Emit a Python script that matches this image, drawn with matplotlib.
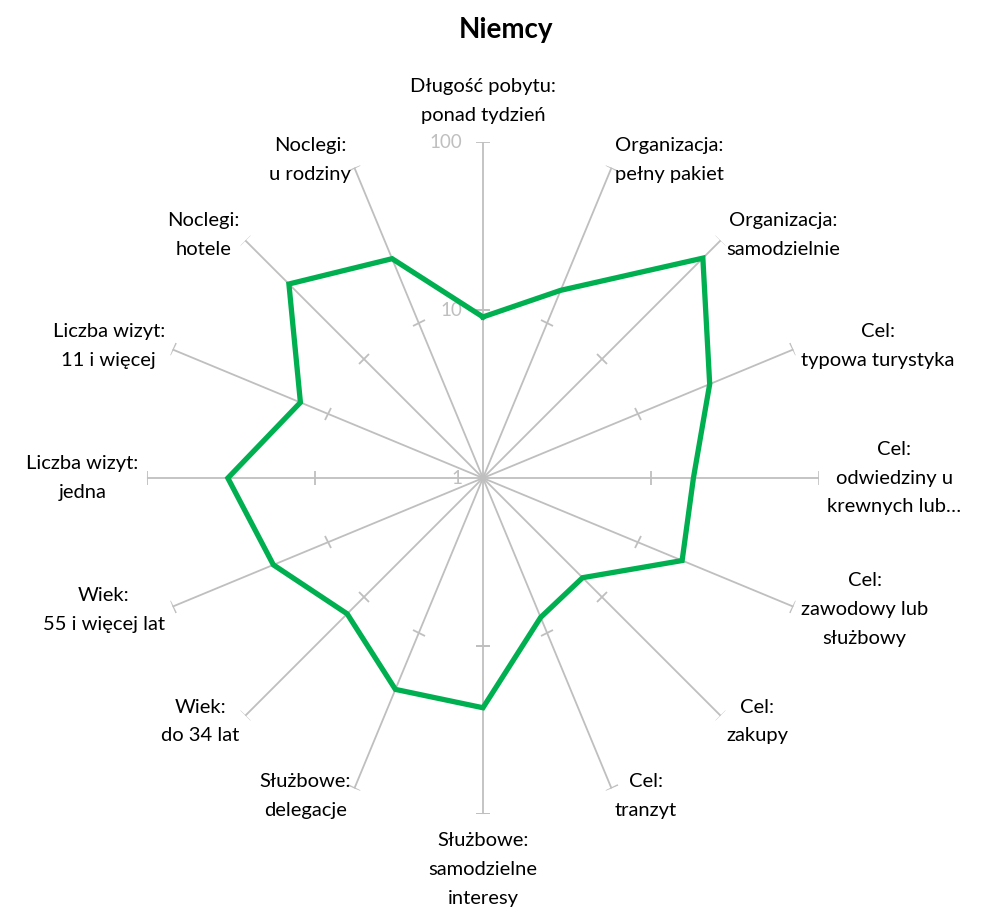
import numpy as np
import matplotlib
matplotlib.use("Agg")
from matplotlib import pyplot as plt
from matplotlib.markers import MarkerStyle
from matplotlib.transforms import Affine2D

# data (clockwise from top), log scale 1..100
labels = [
    "Długość pobytu:\nponad tydzień",
    "Organizacja:\npełny pakiet",
    "Organizacja:\nsamodzielnie",
    "Cel:\ntypowa turystyka",
    "Cel:\nodwiedziny u\nkrewnych lub…",
    "Cel:\nzawodowy lub\nsłużbowy",
    "Cel:\nzakupy",
    "Cel:\ntranzyt",
    "Służbowe:\nsamodzielne\ninteresy",
    "Służbowe:\ndelegacje",
    "Wiek:\ndo 34 lat",
    "Wiek:\n55 i więcej lat",
    "Liczba wizyt:\njedna",
    "Liczba wizyt:\n11 i więcej",
    "Noclegi:\nhotele",
    "Noclegi:\nu rodziny",
]
values = [9.1, 16.2, 71.0, 28.9, 17.9, 19.2, 6.9, 7.9,
          23.3, 23.0, 13.9, 22.4, 33.0, 15.0, 43.0, 25.9]
rticks = [1, 10, 100]
title = "Niemcy"

GRAY = "#BFBFBF"
GREEN = "#00B050"
plt.rcParams['font.family'] = ['Lato', 'DejaVu Sans']

fig = plt.figure(figsize=(9.83, 9.13), dpi=100)
ax = fig.add_axes([0.1495, 0.1084, 0.6836, 0.736], projection='polar')
ax.set_theta_zero_location('N')
ax.set_theta_direction(-1)
ax.set_rscale('log')
ax.set_rlim(rticks[0], rticks[-1])
ax.grid(False)
ax.spines['polar'].set_visible(False)
ax.set_xticks([])
ax.set_yticks([])
ax.patch.set_alpha(0)

n = len(labels)
theta = np.arange(n) * 2 * np.pi / n

# spokes with tick marks
for i, t in enumerate(theta):
    ax.plot([t, t], [rticks[0], rticks[-1]], color=GRAY, lw=1.3, zorder=1)
    deg = np.degrees(t)
    m = MarkerStyle('_', transform=Affine2D().rotate_deg(-deg))
    ax.plot([t, t], rticks[1:], ls='none', marker=m, markersize=10,
            markeredgecolor=GRAY, markeredgewidth=1.3, zorder=1)

# radial labels
for r in rticks:
    ax.annotate(str(r), xy=(0, r), xytext=(-15, 0), textcoords='offset points',
                ha='right', va='center', color=GRAY, fontsize=13.5,
                annotation_clip=False)

# data line
tt = np.append(theta, theta[0])
vv = np.append(values, values[0])
ax.plot(tt, vv, color=GREEN, lw=3.8, zorder=3, solid_joinstyle='miter')

# category labels
for t, lab in zip(theta, labels):
    s, c = np.sin(t), np.cos(t)
    if abs(s) < 0.1:
        ha = 'center'
        va = 'bottom' if c > 0 else 'top'
        pad = 13
    else:
        ha = 'left' if s > 0 else 'right'
        va = 'center'
        pad = 6
    ax.annotate(lab, xy=(t, rticks[-1]), xytext=(s * pad, c * pad),
                textcoords='offset points', ha=ha, va=va, multialignment='center',
                fontsize=14.5, linespacing=1.85, annotation_clip=False)

fig.text(0.515, 0.967, title, ha='center', va='center', fontsize=20,
         fontweight='bold')

fig.savefig("out.png", dpi=100)
